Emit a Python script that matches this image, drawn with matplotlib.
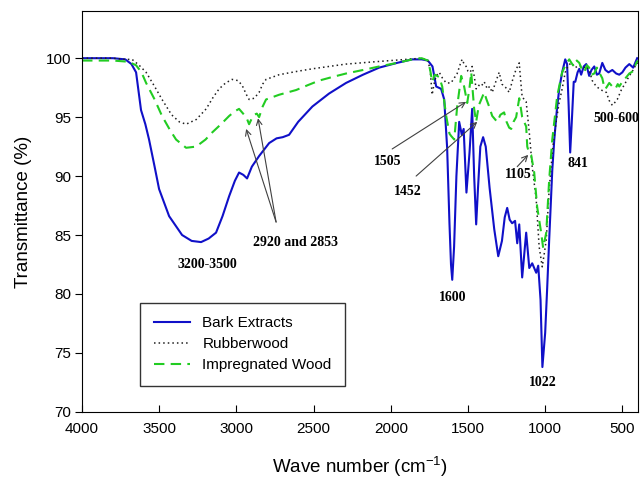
import numpy as np
import matplotlib
matplotlib.use('Agg')
import matplotlib.pyplot as plt

plt.rcParams['font.family'] = ['Liberation Sans', 'DejaVu Sans']
plt.rcParams['mathtext.fontset'] = 'custom'
plt.rcParams['mathtext.rm'] = 'Liberation Sans'
plt.rcParams['mathtext.it'] = 'Liberation Sans:italic'

# Bark Extracts (blue, solid)
wn_bark = [4000, 3800, 3720, 3680, 3650, 3618, 3590, 3566, 3530, 3501, 3436, 3352, 3290, 3229,
           3180, 3132, 3090, 3047, 3010, 2983, 2955, 2931, 2900, 2853, 2788, 2740, 2700, 2659,
           2600, 2508, 2400, 2290, 2180, 2075, 1960, 1861, 1800, 1760, 1730, 1706, 1674, 1654,
           1635, 1620, 1610, 1602, 1590, 1575, 1557, 1540, 1528, 1510, 1490, 1473, 1460, 1447,
           1435, 1420, 1402, 1385, 1360, 1330, 1304, 1280, 1262, 1246, 1230, 1214, 1195, 1181,
           1168, 1149, 1123, 1103, 1084, 1058, 1045, 1030, 1018, 1000, 987, 974, 954, 941, 925,
           909, 890, 870, 858, 848, 838, 828, 815, 805, 790, 779, 767, 750, 734, 715, 700, 682,
           665, 650, 630, 610, 590, 565, 540, 520, 500, 480, 455, 430, 404]
t_bark = [100, 100, 99.9, 99.5, 98.8, 95.6, 94.4, 93.1, 90.8, 88.9, 86.6, 85.0, 84.5, 84.4,
          84.7, 85.2, 86.6, 88.3, 89.6, 90.3, 90.1, 89.8, 90.8, 91.7, 92.8, 93.2, 93.3, 93.5,
          94.6, 95.9, 97.0, 97.9, 98.6, 99.2, 99.6, 99.9, 99.9, 99.8, 99.3, 97.6, 97.4, 96.5,
          92.4, 86.0, 82.5, 81.2, 84.0, 90.0, 94.6, 93.5, 94.0, 88.6, 92.0, 95.7, 90.0, 85.9,
          89.0, 92.5, 93.3, 92.5, 89.0, 85.5, 83.2, 84.5, 86.5, 87.3, 86.3, 86.0, 86.2, 84.3,
          85.9, 81.4, 85.2, 82.2, 82.6, 81.8, 82.4, 79.5, 73.8, 76.7, 80.5, 84.6, 90.5, 93.1, 95.5,
          97.4, 98.8, 99.9, 99.5, 96.0, 92.0, 94.5, 98.0, 98.0, 98.8, 99.1, 98.6, 99.3, 99.5, 98.5,
          99.0, 99.3, 98.6, 98.7, 99.6, 99.0, 98.8, 99.0, 98.7, 98.6, 98.8, 99.2, 99.5, 99.2, 100]

# Rubberwood (black, dotted)
wn_rubber = [4000, 3800, 3720, 3676, 3630, 3585, 3530, 3482, 3420, 3370, 3326, 3260, 3196, 3150,
             3112, 3070, 3028, 2990, 2963, 2935, 2918, 2885, 2853, 2830, 2808, 2723, 2600, 2508,
             2400, 2290, 2100, 1900, 1800, 1760, 1745, 1739, 1732, 1720, 1706, 1686, 1665, 1641,
             1610, 1590, 1570, 1550, 1538, 1525, 1512, 1500, 1485, 1473, 1460, 1447, 1430, 1415,
             1395, 1375, 1360, 1343, 1320, 1298, 1280, 1255, 1233, 1210, 1190, 1168, 1158, 1149,
             1135, 1123, 1103, 1084, 1058, 1039, 1019, 1005, 993, 974, 950, 929, 910, 890, 870,
             850, 830, 805, 780, 750, 730, 715, 695, 669, 637, 604, 585, 565, 545, 533, 507, 485,
             455, 430, 410, 400]
t_rubber = [100, 100, 99.9, 99.9, 99.4, 98.8, 97.6, 96.5, 95.2, 94.6, 94.4, 94.8, 95.7, 96.7,
            97.4, 97.9, 98.2, 98.1, 97.7, 96.9, 96.5, 96.6, 97.1, 97.8, 98.2, 98.6, 98.9, 99.1,
            99.3, 99.5, 99.7, 99.9, 100, 99.8, 99.0, 98.0, 96.9, 97.8, 98.5, 98.8, 98.3, 97.9,
            97.9, 98.3, 98.7, 99.5, 99.9, 99.5, 99.3, 98.9, 98.8, 99.3, 98.5, 97.4, 97.7, 97.6,
            98.0, 97.4, 97.6, 97.1, 98.0, 98.8, 97.8, 97.5, 97.1, 98.2, 99.0, 99.6, 98.0, 96.7,
            96.5, 96.3, 93.7, 90.8, 88.0, 84.0, 82.3, 83.5, 84.6, 88.9, 92.5, 94.6, 96.2, 97.4, 98.8,
            99.4, 99.6, 99.2, 99.4, 99.2, 99.3, 99.0, 98.1, 97.6, 97.3, 97.1, 96.4, 96.0, 96.3, 96.5,
            97.3, 97.8, 98.5, 99.0, 99.5, 99.6]

# Impregnated Wood (green, dashed)
wn_impreg = [4000, 3800, 3700, 3650, 3615, 3585, 3530, 3482, 3430, 3391, 3326, 3261, 3200, 3157,
             3100, 3047, 3010, 2983, 2950, 2930, 2918, 2900, 2885, 2868, 2853, 2830, 2808, 2723,
             2613, 2540, 2464, 2380, 2290, 2180, 2075, 1960, 1861, 1800, 1760, 1745, 1732, 1715,
             1686, 1667, 1641, 1620, 1609, 1589, 1570, 1544, 1525, 1505, 1490, 1479, 1460, 1447,
             1430, 1414, 1395, 1380, 1363, 1343, 1311, 1290, 1266, 1250, 1233, 1220, 1205, 1188,
             1168, 1158, 1149, 1123, 1116, 1105, 1091, 1071, 1052, 1026, 1013, 993, 974, 954, 922,
             890, 865, 844, 825, 812, 795, 779, 760, 747, 730, 715, 700, 682, 665, 650, 630, 615,
             604, 585, 565, 545, 530, 520, 500, 480, 455, 430, 410, 400]
t_impreg = [99.8, 99.8, 99.7, 99.4, 98.8, 97.9, 96.5, 95.1, 93.9, 93.1, 92.4, 92.5, 93.1, 93.7,
            94.4, 95.1, 95.5, 95.7, 95.2, 94.8, 94.4, 94.9, 95.2, 95.3, 95.0, 95.9, 96.5, 96.9,
            97.3, 97.7, 98.1, 98.4, 98.7, 99.0, 99.3, 99.6, 99.9, 100, 99.8, 99.0, 98.0, 98.6,
            98.4, 97.6, 95.1, 93.6, 93.4, 93.1, 95.9, 98.5, 97.6, 96.2, 97.5, 98.8, 95.7, 94.6,
            96.0, 96.5, 97.1, 96.5, 95.9, 95.1, 94.6, 95.2, 95.4, 94.6, 94.1, 94.0, 94.6, 95.0,
            96.6, 95.8, 95.0, 94.2, 92.5, 92.0, 91.8, 90.3, 87.4, 85.2, 83.9, 85.2, 89.7, 93.1, 96.8,
            98.8, 99.5, 99.9, 99.5, 99.3, 99.8, 99.6, 99.0, 98.8, 99.4, 99.2, 98.6, 98.7, 99.2,
            98.8, 98.3, 97.4, 97.5, 97.9, 97.6, 97.4, 97.8, 97.6, 98.0, 98.3, 98.7, 98.9, 99.6, 99.8]

# peak labels: text, x, y
peak_labels = ['3200-3500', '2920 and 2853', '1505', '1452', '1105', '1600', '1022', '841', '500-600']
peak_x = [3190, 2620, 2017, 1887, 1174, 1602, 1013, 786, 540]
peak_y = [82.5, 84.4, 91.2, 88.7, 90.1, 79.7, 72.5, 91.1, 94.9]

# arrows: (tail x, tail y) -> (head x, head y)
arrow_tail = [(2743, 86.1), (2743, 86.1), (1991, 92.3), (1836, 90.0), (1181, 90.8)]
arrow_head = [(2937, 94.0), (2860, 94.9), (1512, 96.3), (1440, 94.6), (1110, 91.8)]

fig = plt.figure(figsize=(6.41, 4.80), dpi=100)
ax = fig.add_axes([0.128, 0.142, 0.867, 0.835])

ax.plot(wn_bark, t_bark, color='#1010c8', lw=1.5, label='Bark Extracts')
ax.plot(wn_rubber, t_rubber, color='#202020', lw=1.1, ls=(0, (1, 2)), label='Rubberwood')
ax.plot(wn_impreg, t_impreg, color='#22cc22', lw=1.5, ls=(0, (5, 3)), label='Impregnated Wood')

for lab, x, y in zip(peak_labels, peak_x, peak_y):
    ax.text(x, y, lab, ha='center', va='center', fontsize=10, fontweight='bold',
            family=['Liberation Serif', 'DejaVu Serif'], clip_on=False)

for tail, head in zip(arrow_tail, arrow_head):
    ax.annotate('', xy=head, xytext=tail,
                arrowprops=dict(arrowstyle='->', color='#404040', lw=0.8, shrinkA=0, shrinkB=0))

ax.set_xlim(4000, 400)
ax.set_ylim(70, 104)
ax.set_xticks([4000, 3500, 3000, 2500, 2000, 1500, 1000, 500])
ax.set_yticks([70, 75, 80, 85, 90, 95, 100])
ax.tick_params(axis='x', direction='in', length=5, labelsize=11, pad=7)
ax.tick_params(axis='y', direction='out', length=5, labelsize=11, pad=3)

ax.set_xlabel('Wave number (cm$^{-1}$)', fontsize=13.5, labelpad=14)
ax.set_ylabel('Transmittance (%)', fontsize=13.5, labelpad=10)

leg = ax.legend(loc='lower left', bbox_to_anchor=(0.104, 0.065), fontsize=11,
                frameon=True, fancybox=False, handlelength=2.4, borderpad=0.9,
                labelspacing=0.45, borderaxespad=0)
leg.get_frame().set_edgecolor('black')
leg.get_frame().set_linewidth(1.0)

plt.savefig('out.png', dpi=100)
